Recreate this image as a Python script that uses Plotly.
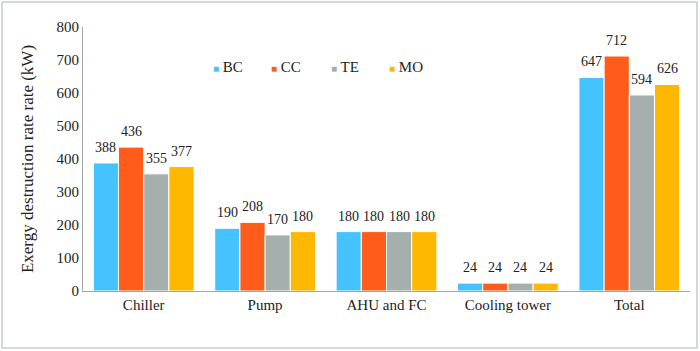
import plotly.graph_objects as go

categories = ["Chiller", "Pump", "AHU and FC", "Cooling tower", "Total"]
bc = [388, 190, 180, 24, 647]
cc = [436, 208, 180, 24, 712]
te = [355, 170, 180, 24, 594]
mo = [377, 180, 180, 24, 626]
series_names = ["BC", "CC", "TE", "MO"]
colors = ["#45C3FE", "#FF5B1B", "#A5AFAE", "#FFB800"]

FONT = "'Liberation Serif', 'Times New Roman', serif"
W, H = 700, 351
L, R, T, B = 83, 10, 27, 60
pw, ph = W - L - R, H - T - B
bargap = 0.17
bw = pw / len(categories) * (1 - bargap) / len(series_names)

fig = go.Figure()
annotations = []
for i, (name, vals, col) in enumerate(zip(series_names, [bc, cc, te, mo], colors)):
    fig.add_trace(go.Bar(
        x=categories, y=vals, name=name, showlegend=False,
        marker=dict(color=col, line=dict(color="white", width=1)),
    ))
    for c, v in zip(categories, vals):
        annotations.append(dict(x=c, y=v, xref="x", yref="y", text=str(v), showarrow=False,
                                xshift=(i - 1.5) * bw, yanchor="bottom", yshift=6,
                                font=dict(family=FONT, size=14, color="#222")))

# legend drawn as text entries
leg_x = [211, 269, 329, 387]
for name, col, lx in zip(series_names, colors, leg_x):
    annotations.append(dict(xref="paper", yref="paper", x=(lx - L) / pw, y=(H - B - 67) / ph,
                            xanchor="left", yanchor="middle", showarrow=False,
                            text=f"<span style='color:{col};font-size:10px'>■</span> {name}",
                            font=dict(family=FONT, size=15, color="#222")))

fig.update_layout(
    width=W, height=H,
    margin=dict(l=L, r=R, t=T, b=B),
    paper_bgcolor="white", plot_bgcolor="white",
    barmode="group", bargap=bargap, bargroupgap=0,
    font=dict(family=FONT, size=14, color="#222"),
    showlegend=False,
    annotations=annotations,
    xaxis=dict(showline=True, linecolor="#A6A6A6", linewidth=1, ticks="",
               tickfont=dict(family=FONT, size=15, color="#222"), showgrid=False),
    yaxis=dict(range=[0, 800], dtick=100, showline=True, linecolor="#A6A6A6",
               linewidth=1, ticks="", showgrid=False, zeroline=False,
               tickfont=dict(family=FONT, size=15, color="#222"),
               title=dict(text="Exergy destruction rate rate (kW)",
                          font=dict(family=FONT, size=17, color="#222"), standoff=18)),
    shapes=[dict(type="rect", xref="paper", yref="paper",
                 x0=(2 - L) / pw, x1=(697 - L) / pw,
                 y0=-(348 - T - ph) / ph, y1=(ph + T - 2) / ph,
                 line=dict(color="#C5CDCD", width=1.5), fillcolor="rgba(0,0,0,0)", layer="below")],
)

fig.write_html("out.html")
